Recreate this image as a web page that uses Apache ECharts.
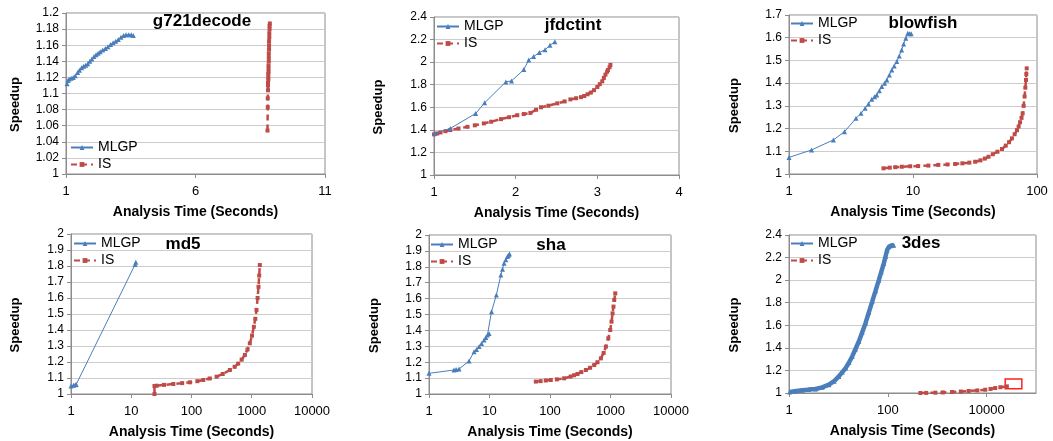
<!DOCTYPE html>
<html><head><meta charset="utf-8">
<script src="https://cdn.jsdelivr.net/npm/echarts@6/dist/echarts.min.js"></script>
<style>html,body{margin:0;padding:0;background:#fff}#c{width:1053px;height:441px}</style>
</head><body><div id="c"></div>
<script>
// ---------- data ----------
const seriesNames = ['MLGP', 'IS'];
const panelTitles = ['g721decode', 'jfdctint', 'blowfish', 'md5', 'sha', '3des'];
const xAxisName = 'Analysis Time (Seconds)';
const yAxisName = 'Speedup';
// [min, max, interval]
const yRanges = [[1, 1.2, 0.02], [1, 2.4, 0.2], [1, 1.7, 0.1], [1, 2, 0.1], [1, 2, 0.1], [1, 2.4, 0.2]];
// [type, min, max, interval|logBase]
const xRanges = [['value', 1, 11, 5], ['value', 1, 4, 1], ['log', 1, 100, 10], ['log', 1, 10000, 10], ['log', 1, 10000, 10], ['log', 1, 100000, 100]];

const g721Mlgp = [[1.04,1.112],[1.08,1.116],[1.12,1.118],[1.2,1.119],[1.28,1.12],[1.36,1.122],[1.45,1.126],[1.52,1.129],[1.6,1.132],[1.68,1.134],[1.76,1.135],[1.84,1.137],[1.92,1.14],[2.0,1.143],[2.08,1.146],[2.16,1.148],[2.24,1.15],[2.32,1.152],[2.42,1.154],[2.52,1.156],[2.62,1.158],[2.72,1.161],[2.82,1.163],[2.92,1.165],[3.02,1.167],[3.12,1.17],[3.22,1.172],[3.32,1.173],[3.42,1.173],[3.52,1.173],[3.6,1.172]];
const g721Is = [[8.78,1.054],[8.79,1.083],[8.79,1.094],[8.80,1.104],[8.80,1.11],[8.80,1.113],[8.81,1.117],[8.81,1.12],[8.81,1.124],[8.82,1.127],[8.82,1.131],[8.82,1.135],[8.83,1.14],[8.83,1.145],[8.83,1.15],[8.84,1.155],[8.84,1.16],[8.84,1.165],[8.85,1.17],[8.85,1.175],[8.86,1.18],[8.86,1.184],[8.87,1.187]];

const jfdMlgp = [[1.01,1.368],[1.2,1.413],[1.51,1.545],[1.62,1.64],[1.88,1.825],[1.95,1.834],[2.1,1.934],[2.16,2.02],[2.22,2.05],[2.29,2.085],[2.36,2.11],[2.42,2.15],[2.48,2.18]];
const jfdIs = [[1.0,1.36],[1.04,1.368],[1.08,1.377],[1.14,1.388],[1.2,1.398],[1.3,1.412],[1.41,1.427],[1.5,1.44],[1.61,1.457],[1.7,1.472],[1.82,1.495],[1.92,1.512],[2.02,1.53],[2.1,1.54],[2.18,1.55],[2.25,1.578],[2.31,1.6],[2.4,1.614],[2.51,1.635],[2.6,1.652],[2.67,1.67],[2.74,1.68],[2.8,1.69],[2.84,1.70],[2.88,1.715],[2.92,1.73],[2.96,1.752],[3.0,1.78],[3.03,1.805],[3.06,1.83],[3.08,1.86],[3.1,1.89],[3.12,1.915],[3.13,1.93],[3.15,1.955],[3.16,1.975]];

const blowMlgp = [[1,1.073],[1.52,1.106],[2.28,1.15],[2.8,1.186],[3.47,1.245],[3.81,1.267],[4.11,1.289],[4.37,1.308],[4.65,1.329],[4.9,1.34],[5.1,1.348],[5.35,1.366],[5.6,1.385],[5.9,1.4],[6.15,1.414],[6.45,1.436],[6.75,1.458],[7.05,1.476],[7.4,1.495],[7.75,1.52],[8.1,1.546],[8.4,1.572],[8.75,1.598],[9.08,1.62],[9.4,1.617],[9.67,1.617]];
const blowIs = [[5.78,1.025],[6.5,1.028],[7.2,1.03],[8.13,1.032],[9.5,1.034],[11,1.035],[13.3,1.037],[16,1.04],[19,1.042],[21.9,1.044],[25,1.047],[28.5,1.05],[31.8,1.054],[35,1.06],[38,1.068],[40.7,1.076],[44,1.087],[48,1.098],[52.2,1.11],[56,1.125],[59.5,1.14],[62.8,1.157],[66,1.175],[69,1.193],[71.1,1.209],[73,1.228],[75,1.247],[76.6,1.267],[78,1.3],[79.4,1.341],[80.5,1.38],[81.5,1.414],[82,1.44],[82.6,1.465]];

const md5Mlgp = [[1.0,1.05],[1.1,1.055],[1.18,1.058],[1.22,1.06],[11.6,1.81],[11.9,1.823]];
const md5Is = [[24.3,1.0],[24.3,1.05],[26.5,1.052],[35,1.057],[50,1.0625],[70,1.068],[94,1.073],[125,1.08],[157,1.0875],[200,1.097],[261,1.108],[330,1.125],[434,1.15],[520,1.17],[596,1.19],[680,1.215],[769,1.244],[850,1.278],[929,1.317],[1010,1.365],[1083,1.42],[1145,1.47],[1199,1.525],[1250,1.6],[1295,1.67],[1330,1.74],[1362,1.806]];

const shaMlgp = [[1,1.13],[2.59,1.151],[2.8,1.154],[3.14,1.157],[4.59,1.208],[5.56,1.266],[6.1,1.28],[6.73,1.298],[7.4,1.318],[8.13,1.34],[8.7,1.355],[9.24,1.371],[9.84,1.38],[10.8,1.518],[13.0,1.623],[15.4,1.748],[16.4,1.785],[17.4,1.822],[18.6,1.845],[19.8,1.864],[20.6,1.873],[21.4,1.88]];
const shaIs = [[58.3,1.078],[70,1.081],[85,1.085],[103,1.088],[130,1.092],[171,1.0985],[220,1.11],[250,1.118],[285,1.126],[330,1.138],[392,1.151],[460,1.165],[538,1.182],[610,1.2],[693,1.224],[770,1.258],[839,1.298],[920,1.35],[990,1.4025],[1040,1.455],[1082,1.507],[1120,1.55],[1153,1.591],[1199,1.633]];

const desMlgp = [[1.03,1.009],[1.3,1.015],[1.86,1.024],[2.5,1.03],[3.46,1.035],[4.7,1.05],[6.43,1.074],[8.2,1.105],[10.2,1.147],[12,1.185],[14.0,1.221],[16.4,1.27],[19.0,1.324],[22.2,1.39],[25.9,1.457],[30.2,1.535],[35.4,1.619],[41.3,1.715],[48.3,1.81],[56.4,1.905],[65.8,2.0],[74,2.075],[83,2.149],[90,2.21],[97,2.267],[105,2.295],[113,2.305],[122,2.31],[132,2.31]];
const desIs = [[457,1.0],[600,1.001],[918,1.003],[1300,1.005],[1995,1.009],[3000,1.013],[4330,1.018],[6500,1.023],[9400,1.029],[12000,1.036],[14960,1.044],[19000,1.051],[25700,1.059]];
const desHighlight = [[23800, 1.038], [51700, 1.124]];

const mlgpData = [g721Mlgp, jfdMlgp, blowMlgp, md5Mlgp, shaMlgp, desMlgp];
const isData = [g721Is, jfdIs, blowIs, md5Is, shaIs, desIs];

// ---------- layout ----------
const grids = [[66,13,259,161],[434,17,245,158],[789,15,248,159],[71,234,241,160],[429,235,242,159],[789,235,247,158]];
const legendPos = [[70,140],[436,19],[790,16],[73,236],[430,237],[790,236]];
const titlePos = [[202,21],[573,25],[923,23],[183,244],[551,245],[921,243]];
const yNameGap = [44,49,48,49,48,48];

const FONT = '"Liberation Sans", Arial, sans-serif';
const BLUE = '#4a7ebb', RED = '#be4b48', AXIS = '#8c8c8c';

const opt = {animation:false, backgroundColor:'#fff', grid:[], xAxis:[], yAxis:[], series:[], legend:[], graphic:[]};
for (let i = 0; i < 6; i++) {
  const g = grids[i];
  opt.grid.push({left:g[0], top:g[1], width:g[2], height:g[3], show:true, borderColor:AXIS, borderWidth:1, backgroundColor:'transparent'});
  const xr = xRanges[i];
  const xa = {
    gridIndex:i, type:xr[0], min:xr[1], max:xr[2],
    splitLine:{show:false},
    axisLine:{show:true, lineStyle:{color:AXIS}},
    axisTick:{show:true, length:4, lineStyle:{color:AXIS}},
    axisLabel:{fontFamily:FONT, fontSize:13, color:'#000', margin:11,
      formatter: xr[0] === 'log' ? (v => String(Math.round(v))) : (v => String(v))},
    name:xAxisName, nameLocation:'middle', nameGap:31,
    nameTextStyle:{fontFamily:FONT, fontWeight:'bold', fontSize:14, color:'#000'}
  };
  if (xr[0] === 'log') { xa.logBase = xr[3]; if (xr[3] === 100) xa.axisLabel.showMaxLabel = false; }
  else xa.interval = xr[3];
  opt.xAxis.push(xa);
  const yr = yRanges[i];
  opt.yAxis.push({
    gridIndex:i, type:'value', min:yr[0], max:yr[1], interval:yr[2],
    splitLine:{show:true, lineStyle:{color:'#cccccc', width:1}},
    axisLine:{show:true, lineStyle:{color:AXIS}},
    axisTick:{show:true, length:4, lineStyle:{color:AXIS}},
    axisLabel:{fontFamily:FONT, fontSize:12, color:'#000', margin:7},
    name:yAxisName, nameLocation:'middle', nameGap:yNameGap[i],
    nameTextStyle:{fontFamily:FONT, fontWeight:'bold', fontSize:13, color:'#000', padding:[0,22,0,0]}
  });
  const thick = i === 5 ? 4.5 : 1;
  opt.series.push({
    name:seriesNames[0], type:'line', xAxisIndex:i, yAxisIndex:i, data:mlgpData[i],
    symbol:'triangle', symbolSize:5, showSymbol:true,
    lineStyle:{color:BLUE, width:thick}, itemStyle:{color:BLUE}, z:3
  });
  const isS = {
    name:seriesNames[1], type:'line', xAxisIndex:i, yAxisIndex:i, data:isData[i],
    symbol:'rect', symbolSize:4, showSymbol:true,
    lineStyle:{color:RED, width:2.5, type:[6,4]}, itemStyle:{color:RED}, z:2
  };
  if (i === 5) {
    isS.markArea = {silent:true, itemStyle:{color:'rgba(255,0,0,0)', borderColor:'#ff2020', borderWidth:1.5},
      data:[[{coord:desHighlight[0]}, {coord:desHighlight[1]}]]};
  }
  opt.series.push(isS);
  opt.legend.push({
    data:seriesNames, orient:'vertical', left:legendPos[i][0], top:legendPos[i][1],
    itemWidth:22, itemHeight:6, itemGap:2, padding:0, selectedMode:false,
    itemStyle:{borderWidth:0},
    textStyle:{fontFamily:FONT, fontSize:14, color:'#000', lineHeight:15}
  });
  opt.graphic.push({
    type:'text', x:titlePos[i][0], y:titlePos[i][1], z:10,
    style:{text:panelTitles[i], font:'bold 17px ' + FONT, fill:'#000', align:'center', verticalAlign:'middle'}
  });
}
const chart = echarts.init(document.getElementById('c'), null, {renderer:'canvas'});
chart.setOption(opt);
</script></body></html>
